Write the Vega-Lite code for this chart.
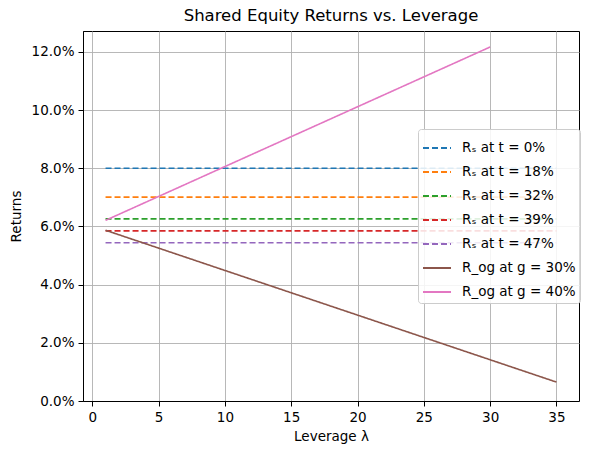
{
  "$schema": "https://vega.github.io/schema/vega-lite/v6.json",
  "width": 496,
  "height": 370,
  "autosize": {"type": "none"},
  "padding": {"left": 83, "top": 31, "right": 10, "bottom": 56},
  "title": {
    "text": "Shared Equity Returns vs. Leverage",
    "fontSize": 16.5,
    "fontWeight": "normal",
    "font": "DejaVu Sans",
    "color": "black",
    "offset": 7
  },
  "data": {
    "values": [
      {"series": "Rₛ at t = 0%", "lev": 1, "ret": 0.0800},
      {"series": "Rₛ at t = 0%", "lev": 35, "ret": 0.0800},
      {"series": "Rₛ at t = 18%", "lev": 1, "ret": 0.0701},
      {"series": "Rₛ at t = 18%", "lev": 35, "ret": 0.0701},
      {"series": "Rₛ at t = 32%", "lev": 1, "ret": 0.0626},
      {"series": "Rₛ at t = 32%", "lev": 35, "ret": 0.0626},
      {"series": "Rₛ at t = 39%", "lev": 1, "ret": 0.0585},
      {"series": "Rₛ at t = 39%", "lev": 35, "ret": 0.0585},
      {"series": "Rₛ at t = 47%", "lev": 1, "ret": 0.0544},
      {"series": "Rₛ at t = 47%", "lev": 35, "ret": 0.0544},
      {"series": "R_og at g = 30%", "lev": 1, "ret": 0.0587},
      {"series": "R_og at g = 30%", "lev": 35, "ret": 0.0065},
      {"series": "R_og at g = 40%", "lev": 1, "ret": 0.0621},
      {"series": "R_og at g = 40%", "lev": 30, "ret": 0.1217}
    ]
  },
  "mark": {"type": "line", "strokeWidth": 1.6, "clip": true},
  "encoding": {
    "x": {
      "field": "lev",
      "type": "quantitative",
      "scale": {"domain": [-0.7, 36.7], "nice": false, "zero": false},
      "axis": {"values": [0, 5, 10, 15, 20, 25, 30, 35], "title": "Leverage λ"}
    },
    "y": {
      "field": "ret",
      "type": "quantitative",
      "scale": {"domain": [0, 0.1272], "nice": false},
      "axis": {"values": [0, 0.02, 0.04, 0.06, 0.08, 0.1, 0.12], "format": ".1%", "title": "Returns"}
    },
    "color": {
      "field": "series",
      "type": "nominal",
      "scale": {
        "domain": ["Rₛ at t = 0%", "Rₛ at t = 18%", "Rₛ at t = 32%", "Rₛ at t = 39%", "Rₛ at t = 47%", "R_og at g = 30%", "R_og at g = 40%"],
        "range": ["#1f77b4", "#ff7f0e", "#2ca02c", "#d62728", "#9467bd", "#8c564b", "#e377c2"]
      },
      "legend": {
        "title": null,
        "orient": "none",
        "legendX": 335,
        "legendY": 98
      }
    },
    "strokeDash": {
      "field": "series",
      "type": "nominal",
      "scale": {
        "domain": ["Rₛ at t = 0%", "Rₛ at t = 18%", "Rₛ at t = 32%", "Rₛ at t = 39%", "Rₛ at t = 47%", "R_og at g = 30%", "R_og at g = 40%"],
        "range": [[6, 3], [6, 3], [6, 3], [6, 3], [6, 3], [1, 0], [1, 0]]
      },
      "legend": {
        "title": null,
        "orient": "none",
        "legendX": 335,
        "legendY": 98
      }
    }
  },
  "config": {
    "font": "DejaVu Sans",
    "view": {"stroke": "black", "strokeWidth": 1},
    "axis": {
      "domainColor": "black",
      "tickColor": "black",
      "tickSize": 5,
      "labelColor": "black",
      "labelFontSize": 13.5,
      "labelFont": "DejaVu Sans",
      "titleFont": "DejaVu Sans",
      "titleFontSize": 13.5,
      "titleFontWeight": "normal",
      "titleColor": "black",
      "grid": true,
      "gridColor": "#b0b0b0",
      "gridWidth": 0.9,
      "labelPadding": 4
    },
    "axisX": {"titlePadding": 6, "labelFlush": false},
    "axisY": {"titlePadding": 8},
    "legend": {
      "fillColor": "rgba(255,255,255,0.85)",
      "strokeColor": "#cccccc",
      "cornerRadius": 3,
      "padding": 4,
      "symbolType": "stroke",
      "symbolSize": 784,
      "symbolStrokeWidth": 2,
      "labelFontSize": 13.5,
      "labelFont": "DejaVu Sans",
      "labelColor": "black",
      "rowPadding": 2,
      "labelOffset": 10
    }
  }
}
